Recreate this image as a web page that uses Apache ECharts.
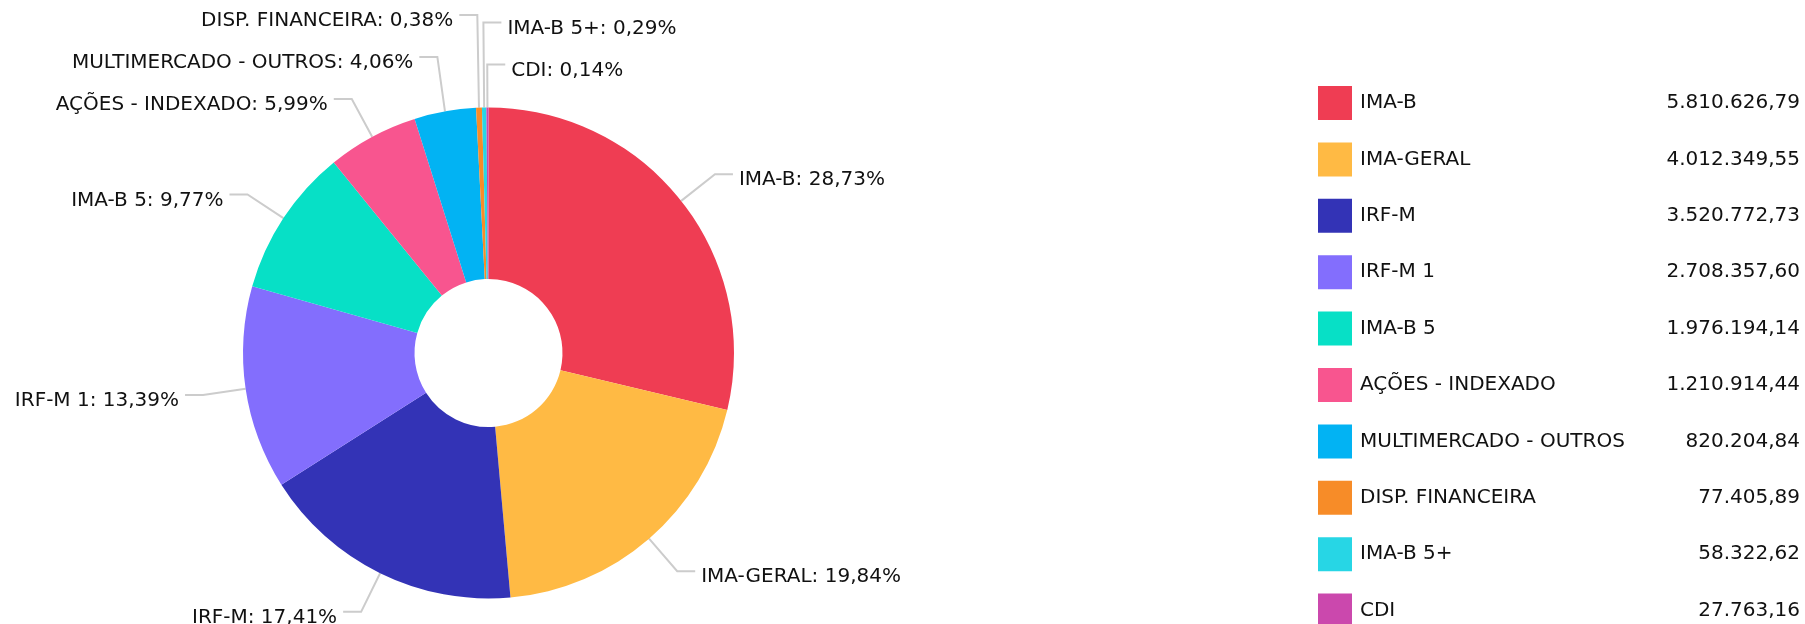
<!DOCTYPE html>
<html>
<head>
<meta charset="utf-8">
<script src="https://cdn.jsdelivr.net/npm/echarts@6/dist/echarts.min.js"></script>
<style>
    html, body { margin: 0; padding: 0; background: #fff; }
    #main { width: 1805px; height: 624px; }
</style>
</head>
<body>
<div id="main"></div>
<script>
    // carteira por segmento
    var categories = ['IMA-B', 'IMA-GERAL', 'IRF-M', 'IRF-M 1', 'IMA-B 5', 'AÇÕES - INDEXADO',
        'MULTIMERCADO - OUTROS', 'DISP. FINANCEIRA', 'IMA-B 5+', 'CDI'];
    var values = [5810626.79, 4012349.55, 3520772.73, 2708357.60, 1976194.14, 1210914.44,
        820204.84, 77405.89, 58322.62, 27763.16];
    var colors = ['#EF3D53', '#FFBA44', '#3333B6', '#836EFD', '#07E0C6', '#F8558F',
        '#02B3F3', '#F78C28', '#27D6E5', '#CB48AD'];

    var fontFamily = '"DejaVu Sans", Verdana, sans-serif';
    var textColor = '#111111';

    // geometria do donut
    var cx = 488.5, cy = 353, rOut = 245.5, rIn = 74;
    var startAngle = 90;
    var lineLen = 43, lineLen2 = 18, labelGap = 42;

    function fmtBR(v) {
        var parts = v.toFixed(2).split('.');
        parts[0] = parts[0].replace(/\B(?=(\d{3})+(?!\d))/g, '.');
        return parts[0] + ',' + parts[1];
    }

    var valueByName = {};
    var pieData = [];
    var total = 0;
    for (var i = 0; i < categories.length; i++) {
        valueByName[categories[i]] = values[i];
        pieData.push({ name: categories[i], value: values[i] });
        total += values[i];
    }

    // posicao dos rotulos: empilha para cima na metade de cima, para baixo na de baixo
    var labelPos = [];
    var acc = 0;
    for (var i = 0; i < values.length; i++) {
        var mid = (startAngle - (acc + values[i] / 2) / total * 360) * Math.PI / 180;
        acc += values[i];
        var c = Math.cos(mid), s = Math.sin(mid);
        var x2 = cx + (rOut + lineLen) * c;
        labelPos.push({
            side: (x2 - cx) > -8 ? 1 : -1,   // fatias quase no topo ficam a direita
            p1: [cx + rOut * c, cy - rOut * s],
            x2: x2,
            y: cy - (rOut + lineLen) * s
        });
    }
    [1, -1].forEach(function (side) {
        var items = labelPos.filter(function (p) { return p.side === side; })
            .sort(function (a, b) { return side * (b.x2 - a.x2); });
        var top = items.filter(function (p) { return p.y < cy; });
        for (var k = 1; k < top.length; k++) {
            top[k].y = Math.min(top[k].y, top[k - 1].y - labelGap);
        }
        var bottom = items.filter(function (p) { return p.y >= cy; });
        for (var k = 1; k < bottom.length; k++) {
            bottom[k].y = Math.max(bottom[k].y, bottom[k - 1].y + labelGap);
        }
    });

    var chart = echarts.init(document.getElementById('main'));

    option = {
        animation: false,
        color: colors,
        textStyle: { fontFamily: fontFamily },
        legend: {
            orient: 'vertical',
            left: 1318,
            top: 86,
            height: 620,
            padding: 0,
            itemWidth: 34,
            itemHeight: 34,
            itemGap: 22.4,
            icon: 'rect',
            selectedMode: false,
            data: categories,
            formatter: function (name) {
                return '{n|' + name + '}{v|' + fmtBR(valueByName[name]) + '}';
            },
            textStyle: {
                fontFamily: fontFamily,
                fontSize: 20,
                color: textColor,
                rich: {
                    n: { width: 270, fontSize: 20, fontFamily: fontFamily, color: textColor, padding: [0, 0, 0, 3] },
                    v: { width: 170, align: 'right', fontSize: 20, fontFamily: fontFamily, color: textColor }
                }
            }
        },
        series: [{
            type: 'pie',
            center: [cx, cy],
            radius: [rIn, rOut],
            startAngle: startAngle,
            clockwise: true,
            avoidLabelOverlap: false,
            data: pieData,
            itemStyle: { borderWidth: 0 },
            emphasis: { disabled: true },
            label: {
                show: true,
                overflow: 'none',
                fontFamily: fontFamily,
                fontSize: 20,
                color: textColor,
                formatter: function (p) {
                    return p.name + ': ' + p.percent.toFixed(2).replace('.', ',') + '%';
                }
            },
            labelLine: {
                show: true,
                length: lineLen,
                length2: lineLen2,
                lineStyle: { color: '#cccccc', width: 2 }
            },
            labelLayout: function (params) {
                var p = labelPos[params.dataIndex];
                var x3 = p.x2 + p.side * lineLen2;
                return {
                    x: x3 + p.side * 6,
                    y: p.y + 6,
                    align: p.side > 0 ? 'left' : 'right',
                    verticalAlign: 'middle',
                    labelLinePoints: [p.p1, [p.x2, p.y], [x3, p.y]]
                };
            }
        }]
    };

    chart.setOption(option);
</script>
</body>
</html>
